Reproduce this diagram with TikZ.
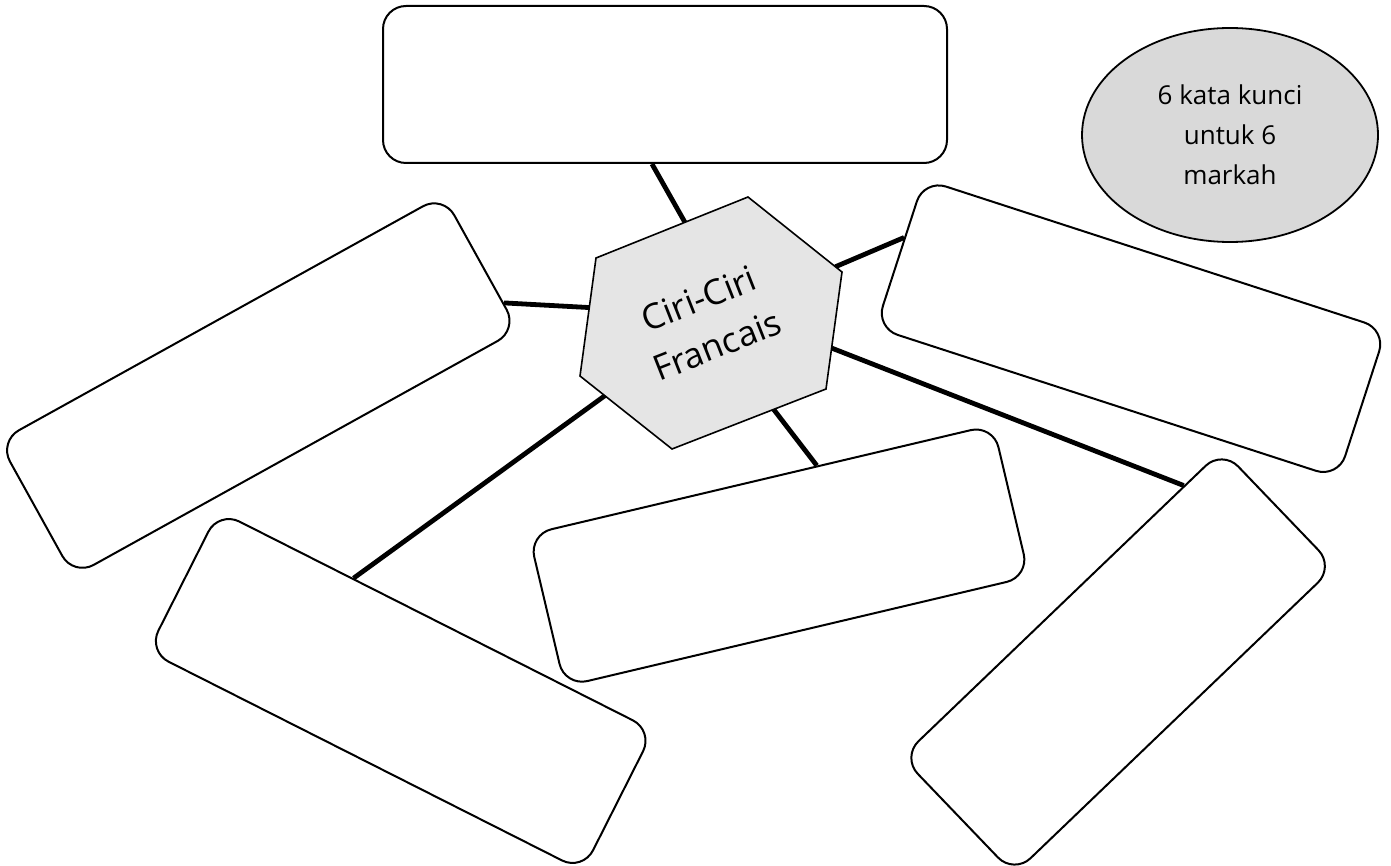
\documentclass[tikz,border=0pt]{standalone}
\usepackage{fontspec}
\setmainfont{Open Sans}
\usetikzlibrary{shapes.geometric,calc}
\pgfdeclarelayer{bg}
\pgfsetlayers{bg,main}
\begin{document}
\begin{tikzpicture}[x=1pt,y=-1pt,
  card/.style={draw, line width=2pt, fill=white, rounded corners=23pt, inner sep=0pt},
  link/.style={line width=4.8pt},
  hexline/.style={draw, line width=1.6pt, fill=black!10},
  notestyle/.style={ellipse, draw, line width=1.8pt, fill=black!15, inner sep=0pt,
    minimum width=296pt, minimum height=214pt, align=center,
    font=\fontsize{26}{40}\selectfont},
  hextext/.style={align=center, font=\fontsize{35}{50}\selectfont}
]
\useasboundingbox (0,0) rectangle (1391,866);
% boxes
\node[card, minimum width=564pt, minimum height=157pt] (top) at (665,84.5) {};
\node[card, rotate=29, minimum width=508pt, minimum height=154pt] (L) at (258.3,385.6) {};
\node[card, rotate=-18, minimum width=486pt, minimum height=156pt] (TR) at (1131,328.7) {};
\node[card, rotate=-26.8, minimum width=487pt, minimum height=157pt] (BL) at (400.7,691) {};
\node[card, rotate=13.3, minimum width=477pt, minimum height=156pt] (BM) at (779,555.6) {};
\node[card, rotate=43.8, minimum width=444pt, minimum height=162pt] (BR) at (1118.1,662) {};
% hexagon
\coordinate (h1) at (596,258);
\coordinate (h2) at (748,197);
\coordinate (h3) at (842,272);
\coordinate (h4) at (826,389);
\coordinate (h5) at (672,449);
\coordinate (h6) at (580,376);
\path[hexline] (h1) -- (h2) -- (h3) -- (h4) -- (h5) -- (h6) -- cycle;
\node[hextext, rotate=21.5] (center) at (708,322) {Ciri-Ciri\\Francais};
% note
\node[notestyle] (note) at (1230,135) {6 kata kunci\\untuk 6\\markah};
% connectors
\begin{pgfonlayer}{bg}
\draw[link] ($(top.south west)!0.477!(top.south east)$) -- ($(h1)!0.585!(h2)$);
\draw[link] ($(L.east)!0.6!(L.south east)$) -- ($(h1)!0.42!(h6)$);
\draw[link] ($(h2)!0.93!(h3)$) -- ($(TR.west)!0.21!(TR.north west)$);
\draw[link] ($(h3)!0.65!(h4)$) -- ($(BR.north)!0.76!(BR.north east)$);
\draw[link] ($(h4)!0.34!(h5)$) -- ($(BM.north)!0.24!(BM.north east)$);
\draw[link] ($(h6)!0.27!(h5)$) -- ($(BL.north)!0.38!(BL.north west)$);
\end{pgfonlayer}
\end{tikzpicture}
\end{document}
